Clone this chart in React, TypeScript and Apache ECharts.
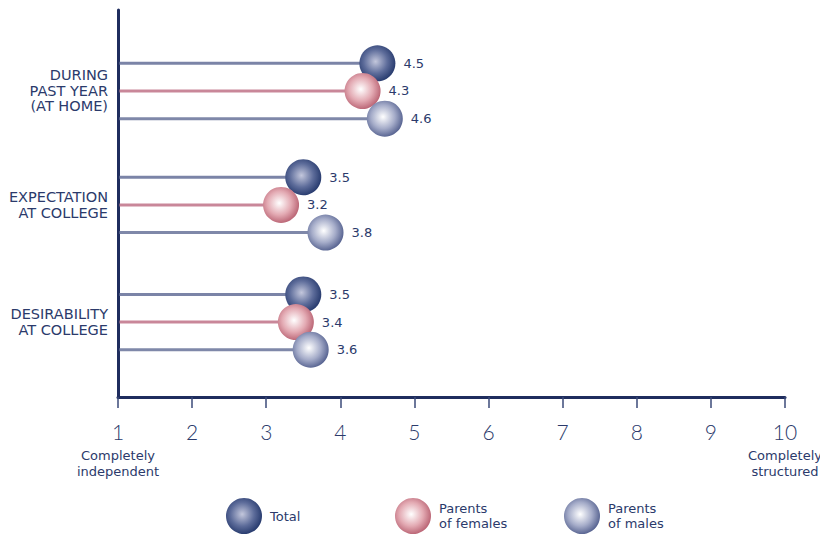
import React, { useEffect, useRef } from "react";
import * as echarts from "echarts";

// Survey scale: 1 = completely independent, 10 = completely structured
const groupLabels = ["DURING\nPAST YEAR\n(AT HOME)", "EXPECTATION\nAT COLLEGE", "DESIRABILITY\nAT COLLEGE"];
const seriesNames = ["Total", "Parents\nof females", "Parents\nof males"];
const totalValues = [4.5, 3.5, 3.5];
const femaleValues = [4.3, 3.2, 3.4];
const maleValues = [4.6, 3.8, 3.6];
const scaleMin = 1;
const scaleMax = 10;
const lowEndLabel = "Completely\nindependent";
const highEndLabel = "Completely\nstructured";

// Layout of rows on the hidden vertical value axis
const groupCenters = [2.93, 7.05, 11.29];
const rowOffsets = [-1, 0, 1];

const INK = "#2b3a6b";
const AXIS = "#1f2d5e";
const NUM_FONT = "Lato, 'Open Sans', sans-serif";
const TEXT_FONT = "'DejaVu Sans', 'Noto Sans', sans-serif";

const ballGradients = [
  { type: "radial", x: 0.45, y: 0.45, r: 0.6, colorStops: [
    { offset: 0, color: "#c3c7dc" }, { offset: 0.55, color: "#5d6c9a" }, { offset: 1, color: "#1f3367" },
  ] },
  { type: "radial", x: 0.45, y: 0.45, r: 0.6, colorStops: [
    { offset: 0, color: "#ffffff" }, { offset: 0.55, color: "#e3aab3" }, { offset: 1, color: "#b45a6b" },
  ] },
  { type: "radial", x: 0.45, y: 0.45, r: 0.6, colorStops: [
    { offset: 0, color: "#ffffff" }, { offset: 0.55, color: "#a5acc9" }, { offset: 1, color: "#4b5888" },
  ] },
];
const stemColors = ["#7b84a7", "#c98799", "#7f88a9"];
const BALL_R = 18;

function lollipopSeries(name: string, values: number[], idx: number) {
  return {
    type: "custom",
    name,
    z: 2 + idx,
    data: values.map((v, i) => [v, groupCenters[i] + rowOffsets[idx]]),
    renderItem: (_params: any, api: any) => {
      const v = api.value(0) as number;
      const y = api.value(1) as number;
      const a = api.coord([scaleMin, y]);
      const b = api.coord([v, y]);
      return {
        type: "group",
        children: [
          {
            type: "line",
            shape: { x1: a[0] + 1.5, y1: a[1], x2: b[0], y2: b[1] },
            style: { stroke: stemColors[idx], lineWidth: 3 },
          },
          {
            type: "circle",
            shape: { cx: b[0], cy: b[1], r: BALL_R },
            style: { fill: ballGradients[idx] },
          },
          {
            type: "text",
            x: b[0] + BALL_R + 8,
            y: b[1],
            style: {
              text: v.toFixed(1),
              fill: INK,
              font: `13px ${TEXT_FONT}`,
              verticalAlign: "middle",
              align: "left",
            },
          },
        ],
      };
    },
  };
}

const legendX = [244, 413, 582];
const legendY = 516;

export default function App() {
  const ref = useRef<HTMLDivElement>(null);
  useEffect(() => {
    if (!ref.current) return;
    const chart = echarts.init(ref.current, null, { renderer: "svg" });

    const legendGraphics: any[] = [];
    seriesNames.forEach((n, i) => {
      legendGraphics.push({
        type: "circle",
        shape: { cx: legendX[i], cy: legendY, r: BALL_R },
        style: { fill: ballGradients[i] },
      });
      legendGraphics.push({
        type: "text",
        x: legendX[i] + 26,
        y: legendY,
        style: {
          text: n,
          fill: INK,
          font: `13px ${TEXT_FONT}`,
          lineHeight: 15,
          verticalAlign: "middle",
          align: "left",
        },
      });
    });

    chart.setOption({
      animation: false,
      backgroundColor: "#ffffff",
      grid: { left: 118, right: 35, top: 10, bottom: 138, containLabel: false, outerBoundsMode: "none" },
      xAxis: {
        type: "value",
        min: scaleMin,
        max: scaleMax,
        interval: 1,
        splitLine: { show: false },
        axisLine: { show: true, onZero: false, lineStyle: { color: AXIS, width: 3 } },
        axisTick: { show: true, length: 11, lineStyle: { color: "#3b4a78", width: 1.5 } },
        axisLabel: {
          margin: 18,
          showMinLabel: true,
          showMaxLabel: true,
          formatter: (v: number) => {
            if (v === scaleMin) return `{num|${v}}\n` + lowEndLabel.split("\n").map((s) => `{sub|${s}}`).join("\n");
            if (v === scaleMax) return `{num|${v}}\n` + highEndLabel.split("\n").map((s) => `{sub|${s}}`).join("\n");
            return `{num|${v}}`;
          },
          rich: {
            num: { fontSize: 21, fontWeight: 300, lineHeight: 32, color: INK, fontFamily: NUM_FONT },
            sub: { fontSize: 13, lineHeight: 16, color: INK, fontFamily: TEXT_FONT },
          },
        },
      },
      yAxis: {
        type: "value",
        min: 0,
        max: 14,
        inverse: true,
        splitLine: { show: false },
        axisLine: { show: true, onZero: false, lineStyle: { color: AXIS, width: 3 } },
        axisTick: { show: false },
        axisLabel: {
          show: true,
          margin: 10,
          customValues: groupCenters,
          formatter: (v: number) => {
            let best = 0;
            groupCenters.forEach((c, i) => {
              if (Math.abs(c - v) < Math.abs(groupCenters[best] - v)) best = i;
            });
            return groupLabels[best];
          },
          color: INK,
          fontSize: 14.5,
          lineHeight: 15.5,
          fontFamily: TEXT_FONT,
          align: "right",
        },
      },
      series: [
        lollipopSeries(seriesNames[0], totalValues, 0),
        lollipopSeries(seriesNames[1], femaleValues, 1),
        lollipopSeries(seriesNames[2], maleValues, 2),
      ],
      graphic: legendGraphics,
    });
    return () => chart.dispose();
  }, []);
  return (
    <div
      ref={ref}
      style={{ position: "fixed", left: 0, top: 0, width: 820, height: 535, background: "#fff" }}
    />
  );
}
